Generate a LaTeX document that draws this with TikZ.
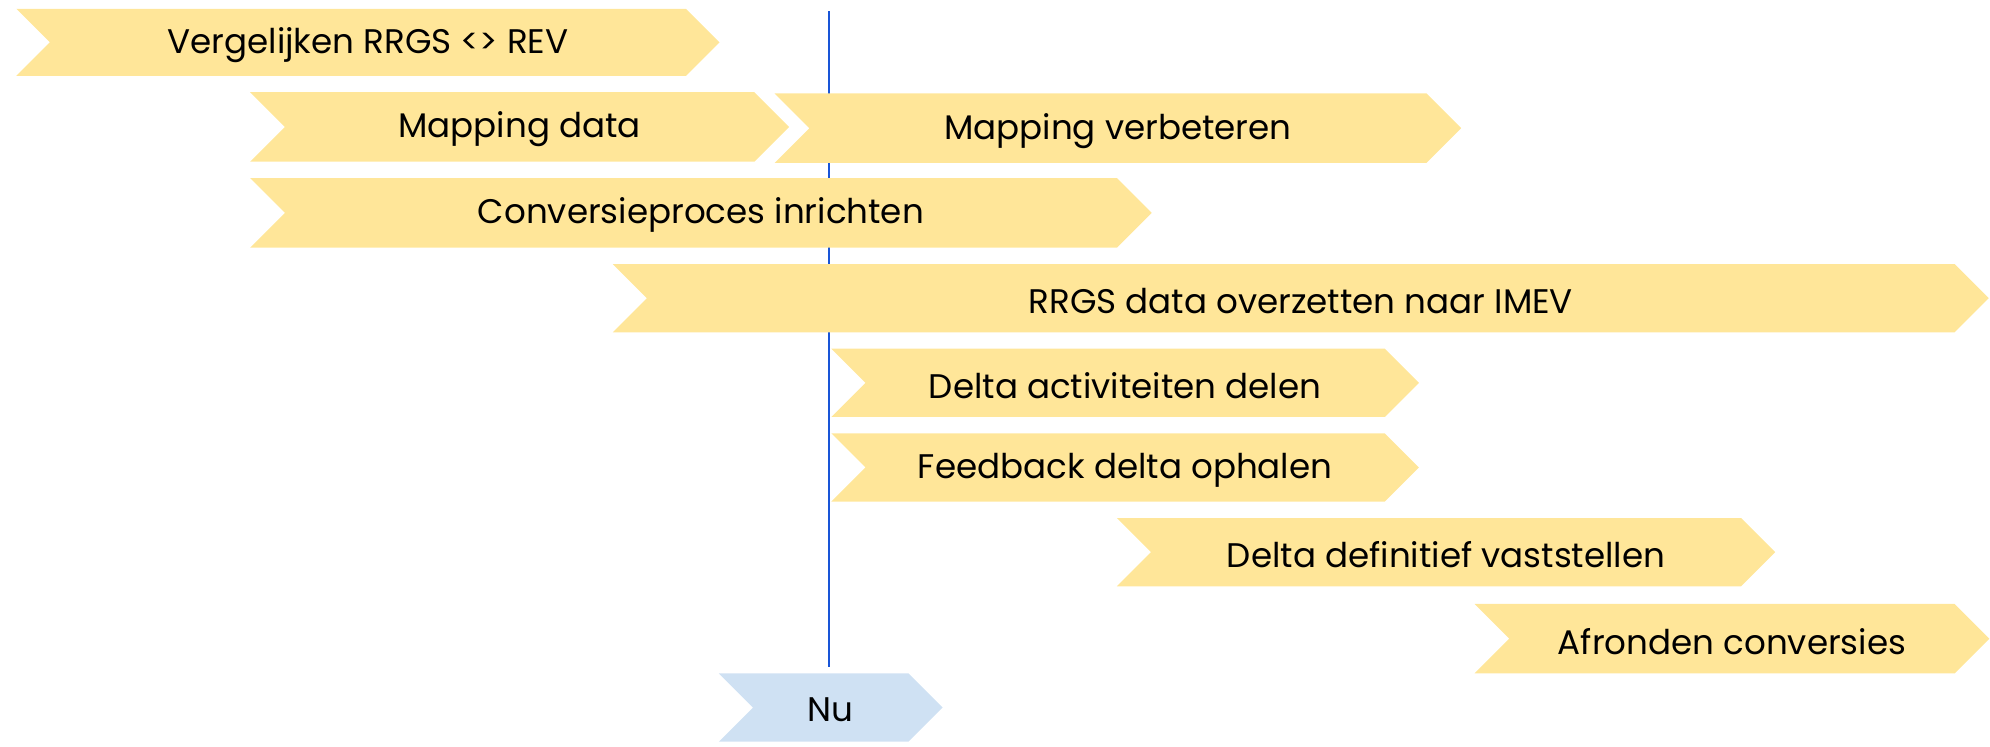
\documentclass[tikz,border=0pt]{standalone}
\usepackage{fontspec}
\setmainfont{Poppins}
\definecolor{gold}{HTML}{FFE699}
\definecolor{paleblue}{HTML}{CFE1F3}
\definecolor{nowline}{RGB}{25,85,215}
\tikzset{
  lbl/.style={inner sep=0pt, yshift=-2pt, font=\fontsize{27}{31}\selectfont, text=black},
  goldfill/.style={fill=gold},
  bluefill/.style={fill=paleblue},
  nowstyle/.style={draw=nowline, line width=1.2pt}
}
\newcommand\chevron[7]{%
  \path[#6] (#2,#4) -- (#3,#4) -- ({#3+(#5-#4)/2},{(#4+#5)/2}) -- (#3,#5) -- (#2,#5) -- ({#2+(#5-#4)/2},{(#4+#5)/2}) -- cycle;
  \node[lbl] (#1) at ({(#2+(#5-#4)/2+#3)/2},{(#4+#5)/2}) {#7};}
\begin{document}
\begin{tikzpicture}[x=1pt,y=-1pt]
\useasboundingbox (0,0) rectangle (1575,591);
\coordinate (lt) at (656,9);
\coordinate (lb) at (656,528);
\draw[nowstyle] (lt) -- (lb);
\chevron{a}{13}{543}{7}{60}{goldfill}{Vergelijken RRGS <> REV}
\chevron{b}{198}{597}{73}{128}{goldfill}{Mapping data}
\chevron{c}{613}{1129}{74}{129}{goldfill}{Mapping verbeteren}
\chevron{d}{198}{884}{141}{196}{goldfill}{Conversieproces inrichten}
\chevron{e}{485}{1547}{209}{263}{goldfill}{RRGS data overzetten naar IMEV}
\chevron{f}{658}{1096}{276}{330}{goldfill}{Delta activiteiten delen}
\chevron{g}{658}{1096}{343}{397}{goldfill}{Feedback delta ophalen}
\chevron{h}{884}{1378}{410}{464}{goldfill}{Delta definitief vaststellen}
\chevron{i}{1167}{1547}{478}{533}{goldfill}{Afronden conversies}
\chevron{nu}{569}{719}{533}{587}{bluefill}{Nu}
\end{tikzpicture}
\end{document}
